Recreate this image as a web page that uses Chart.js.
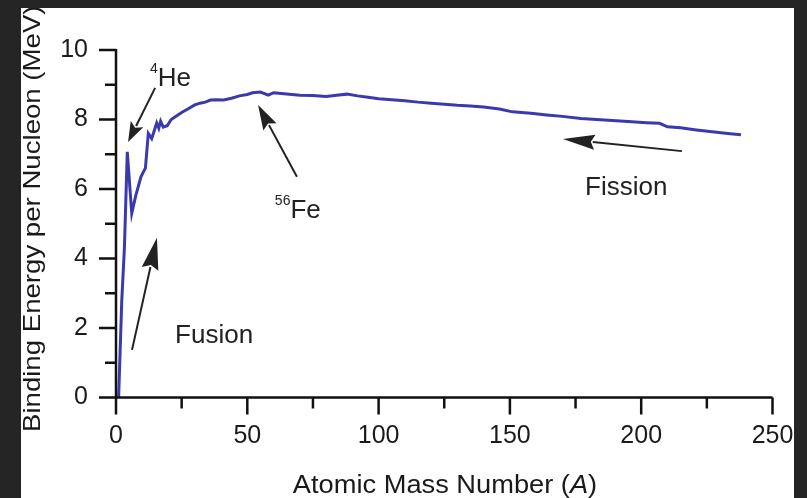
<!DOCTYPE html>
<html lang="en">
<head>
<meta charset="UTF-8">
<title>Binding Energy per Nucleon</title>
<script src="https://cdn.jsdelivr.net/npm/chart.js"></script>
<style>
    body { margin: 0; background: #252525; }
    #wrap { width: 807px; height: 498px; }
</style>
</head>
<body>
<div id="wrap"><canvas id="beChart" width="807" height="498"></canvas></div>
<script>
// values
const massNumber = [1, 2.2, 3.2, 4.3, 6.0, 7.5, 9.5, 10.5, 11.2, 12.3, 13.6, 15.5, 16.3, 17.0, 18.0, 19.5,
    21, 23, 25, 28, 30, 32, 34, 36, 38, 41, 44, 47, 50, 52, 55, 58, 60, 63, 66, 70, 75, 80, 84, 88, 92,
    96, 100, 105, 110, 115, 120, 125, 130, 135, 140, 146, 151, 158, 164, 170, 177, 183, 189, 195, 202,
    207, 210, 215, 221, 227, 233, 238];
const bindingEnergy = [0, 2.8, 4.3, 7.07, 5.3, 5.8, 6.35, 6.5, 6.6, 7.6, 7.45, 7.9, 7.75, 7.95, 7.78, 7.82,
    8.0, 8.1, 8.2, 8.33, 8.42, 8.47, 8.5, 8.56, 8.57, 8.56, 8.61, 8.68, 8.72, 8.77, 8.79, 8.7, 8.77, 8.75,
    8.73, 8.7, 8.69, 8.66, 8.7, 8.73, 8.68, 8.64, 8.6, 8.57, 8.54, 8.5, 8.47, 8.44, 8.41, 8.39, 8.36, 8.3,
    8.22, 8.18, 8.13, 8.09, 8.03, 8.0, 7.97, 7.94, 7.91, 7.89, 7.79, 7.76, 7.7, 7.65, 7.6, 7.56];

const xTickValues = [0, 50, 100, 150, 200, 250];
const xMinorValues = [25, 75, 125, 175, 225];
const yTickValues = [0, 2, 4, 6, 8, 10];
const yMinorValues = [1, 3, 5, 7, 9];

// annotation arrows in data units: fromA, fromBE, toA, toBE, head length, head width
const arrows = [
    [14.9, 8.91, 4.6, 7.35, 20, 14],
    [68.9, 6.35, 54.1, 8.42, 25, 15],
    [6.1, 1.37, 15.6, 4.6, 32, 17],
    [215.5, 7.09, 170.2, 7.44, 32, 15]
];

const points = massNumber.map((a, i) => ({ x: a, y: bindingEnergy[i] }));

const FONT = "'Liberation Sans', Arial, Helvetica, sans-serif";

function drawArrow(ctx, x1, y1, x2, y2, len, w) {
    const ang = Math.atan2(y2 - y1, x2 - x1);
    const bx = x2 - len * Math.cos(ang), by = y2 - len * Math.sin(ang);
    ctx.beginPath();
    ctx.moveTo(x1, y1);
    ctx.lineTo(bx + 2 * Math.cos(ang), by + 2 * Math.sin(ang));
    ctx.stroke();
    ctx.beginPath();
    ctx.moveTo(x2, y2);
    ctx.lineTo(bx + w / 2 * Math.sin(ang), by - w / 2 * Math.cos(ang));
    ctx.lineTo(bx + 4 * Math.cos(ang), by + 4 * Math.sin(ang));
    ctx.lineTo(bx - w / 2 * Math.sin(ang), by + w / 2 * Math.cos(ang));
    ctx.closePath();
    ctx.fill();
}

function drawSupLabel(ctx, sup, main, x, y) {
    ctx.font = '14px ' + FONT;
    ctx.fillText(sup, x, y - 13);
    const w = ctx.measureText(sup).width;
    ctx.font = '26px ' + FONT;
    ctx.fillText(main, x + w, y);
}

const framePlugin = {
    id: 'frame',
    beforeDraw(chart) {
        const ctx = chart.ctx;
        ctx.save();
        ctx.fillStyle = '#252525';
        ctx.fillRect(0, 0, chart.width, chart.height);
        ctx.fillStyle = '#ffffff';
        ctx.fillRect(21, 8, 773, 490);
        ctx.restore();
    },
    afterDraw(chart) {
        const ctx = chart.ctx;
        const xs = chart.scales.x, ys = chart.scales.y;
        const area = chart.chartArea;
        ctx.save();

        // axes and ticks
        ctx.strokeStyle = '#111';
        ctx.lineWidth = 2.5;
        ctx.beginPath();
        ctx.moveTo(area.left, area.top - 1);
        ctx.lineTo(area.left, area.bottom);
        ctx.lineTo(area.right, area.bottom);
        yTickValues.forEach(v => {
            const y = ys.getPixelForValue(v);
            ctx.moveTo(area.left - 17, y); ctx.lineTo(area.left, y);
        });
        yMinorValues.forEach(v => {
            const y = ys.getPixelForValue(v);
            ctx.moveTo(area.left - 11, y); ctx.lineTo(area.left, y);
        });
        xTickValues.forEach(v => {
            const x = xs.getPixelForValue(v);
            ctx.moveTo(x, area.bottom); ctx.lineTo(x, area.bottom + 17);
        });
        xMinorValues.forEach(v => {
            const x = xs.getPixelForValue(v);
            ctx.moveTo(x, area.bottom); ctx.lineTo(x, area.bottom + 11);
        });
        ctx.stroke();

        // axis titles
        ctx.fillStyle = '#1a1a1a';
        ctx.textBaseline = 'alphabetic';
        ctx.textAlign = 'left';
        ctx.save();
        ctx.translate(40, 432);
        ctx.rotate(-Math.PI / 2);
        ctx.scale(1.15, 1);
        ctx.font = '24px ' + FONT;
        ctx.fillText('Binding Energy per Nucleon (MeV)', 0, 0);
        ctx.restore();

        ctx.save();
        const parts = [['Atomic Mass Number (', ''], ['A', 'italic '], [')', '']];
        let total = 0;
        parts.forEach(p => { ctx.font = p[1] + '25px ' + FONT; total += ctx.measureText(p[0]).width; });
        ctx.translate(445, 493);
        ctx.scale(1.09, 1);
        let cx = -total / 2;
        parts.forEach(p => {
            ctx.font = p[1] + '25px ' + FONT;
            ctx.fillText(p[0], cx, 0);
            cx += ctx.measureText(p[0]).width;
        });
        ctx.restore();

        // annotations
        ctx.fillStyle = '#222';
        ctx.strokeStyle = '#222';
        ctx.lineWidth = 2;
        arrows.forEach(a => {
            drawArrow(ctx, xs.getPixelForValue(a[0]), ys.getPixelForValue(a[1]),
                xs.getPixelForValue(a[2]), ys.getPixelForValue(a[3]), a[4], a[5]);
        });
        drawSupLabel(ctx, '4', 'He', xs.getPixelForValue(12.9), ys.getPixelForValue(8.96));
        drawSupLabel(ctx, '56', 'Fe', xs.getPixelForValue(60.5), ys.getPixelForValue(5.17));
        ctx.font = '26px ' + FONT;
        ctx.fillText('Fusion', xs.getPixelForValue(22.5), ys.getPixelForValue(1.57));
        ctx.fillText('Fission', xs.getPixelForValue(178.6), ys.getPixelForValue(5.83));

        // dark border over everything, clips text like the reference
        ctx.fillStyle = '#252525';
        ctx.fillRect(0, 0, chart.width, 8);
        ctx.fillRect(0, 0, 21, chart.height);
        ctx.fillRect(794, 0, chart.width - 794, chart.height);
        ctx.restore();
    }
};

const ctx = document.getElementById('beChart').getContext('2d');
new Chart(ctx, {
    type: 'line',
    data: {
        datasets: [{
            data: points,
            borderColor: '#3a3aae',
            borderWidth: 3,
            pointRadius: 0,
            tension: 0,
            fill: false
        }]
    },
    options: {
        responsive: false,
        animation: false,
        events: [],
        layout: { padding: { left: 0, top: 50, right: 34.5, bottom: 0 } },
        plugins: { legend: { display: false }, tooltip: { enabled: false } },
        scales: {
            x: {
                type: 'linear',
                min: 0,
                max: 250,
                afterFit(scale) {
                    scale.height = 100.5;
                    scale.paddingLeft = 0;
                    scale.paddingRight = 0;
                },
                afterBuildTicks(scale) { scale.ticks = xTickValues.map(v => ({ value: v })); },
                grid: { display: false, drawTicks: false },
                border: { display: false },
                ticks: {
                    padding: 24,
                    color: '#1a1a1a',
                    maxRotation: 0,
                    font: { family: FONT, size: 25 }
                }
            },
            y: {
                type: 'linear',
                min: 0,
                max: 10,
                afterFit(scale) {
                    scale.width = 116;
                    scale.paddingTop = 0;
                    scale.paddingBottom = 0;
                },
                afterBuildTicks(scale) { scale.ticks = yTickValues.map(v => ({ value: v })); },
                grid: { display: false, drawTicks: false },
                border: { display: false },
                ticks: {
                    padding: 28,
                    color: '#1a1a1a',
                    font: { family: FONT, size: 25 }
                }
            }
        }
    },
    plugins: [framePlugin]
});
</script>
</body>
</html>
